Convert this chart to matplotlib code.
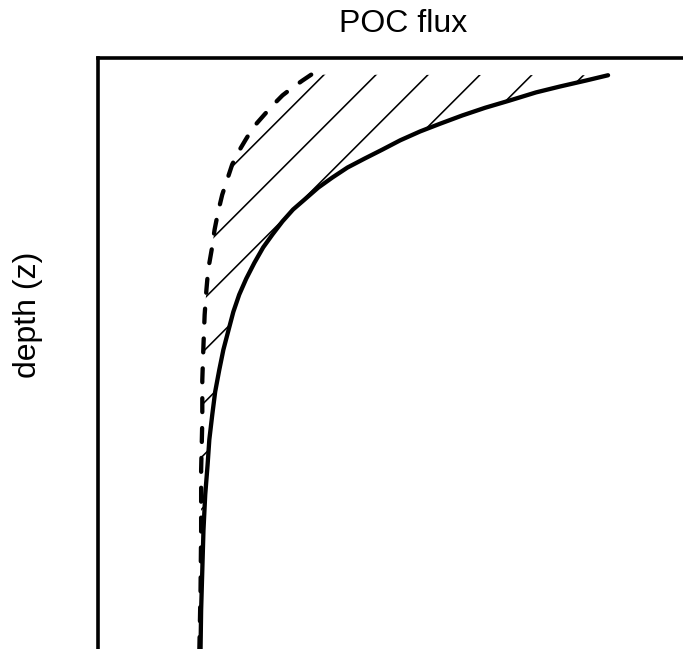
import numpy as np
import matplotlib
matplotlib.use("Agg")
import matplotlib.pyplot as plt
from matplotlib.patches import Polygon

plt.rcParams['font.family'] = ['Liberation Sans', 'DejaVu Sans']
plt.rcParams['lines.scale_dashes'] = False

# flux profiles with depth (arbitrary units, depth 0..100 top to bottom)
solidFlux = [87.2, 83.4, 79.0, 74.9, 70.3, 66.2, 62.3, 58.5, 55.1, 51.7, 48.6,
             45.6, 42.7, 40.1, 37.7, 35.5, 33.4, 31.6, 29.9, 28.3, 26.8, 25.4,
             24.2, 23.2, 22.4, 21.5, 20.8, 20.1, 19.6, 19.1, 18.8, 18.4, 18.1,
             17.9, 17.7, 17.6]
solidDepth = [3.0, 3.9, 4.9, 5.9, 7.3, 8.5, 9.8, 11.2, 12.5, 14.0, 15.6,
              17.1, 18.6, 20.3, 22.0, 23.9, 25.7, 27.7, 29.9, 32.1, 34.7, 37.4,
              40.1, 43.0, 46.0, 49.4, 52.8, 56.5, 60.4, 64.6, 68.9, 73.9, 79.9,
              86.6, 93.4, 100.0]

dashFlux = [36.5, 35.0, 33.3, 31.6, 29.9, 28.2, 26.6, 25.3, 24.1, 23.0, 22.2,
            21.3, 20.6, 20.0, 19.5, 18.9, 18.6, 18.3, 18.1, 17.9, 17.9, 17.7,
            17.7, 17.6, 17.4]
dashDepth = [2.9, 3.9, 5.1, 6.4, 8.1, 10.0, 11.8, 13.9, 15.9, 18.1, 20.5,
             23.2, 26.1, 29.1, 32.5, 35.9, 39.3, 43.5, 48.6, 54.5, 61.3, 69.7,
             79.9, 90.0, 100.0]

W, H, DPI = 683, 649, 100
fig = plt.figure(figsize=(W / DPI, H / DPI), dpi=DPI)
ax = fig.add_axes([97.5 / W, 0, 1 - 97.5 / W, 1 - 57.5 / H])
ax.set_xlim(0, 100)
ax.set_ylim(100, 0)
ax.set_xticks([])
ax.set_yticks([])
for side in ['right', 'bottom']:
    ax.spines[side].set_visible(False)
for side in ['top', 'left']:
    ax.spines[side].set_linewidth(2.6)

# region between the two profiles, used to clip the hatching
region = Polygon(np.column_stack([np.r_[dashFlux, solidFlux[::-1]],
                                  np.r_[dashDepth, solidDepth[::-1]]]),
                 closed=True, facecolor='none', edgecolor='none',
                 transform=ax.transData)
ax.add_patch(region)

# 45 degree hatch lines, spaced in pixels
step = 52.0
x0, y0 = ax.transData.transform((38.6, 3.0))
inv = ax.transData.inverted()
for k in range(-12, 14):
    p = np.array([[x0 + k * step - 800, y0 - 800],
                  [x0 + k * step + 800, y0 + 800]])
    d = inv.transform(p)
    ln, = ax.plot(d[:, 0], d[:, 1], color='black', lw=1.15)
    ln.set_clip_path(region)

ax.plot(solidFlux, solidDepth, color='black', lw=3.1, solid_capstyle='round',
        solid_joinstyle='round', clip_on=False)
ax.plot(dashFlux, dashDepth, color='black', lw=3.1,
        linestyle=(0, (10, 11.5)), dash_capstyle='round', clip_on=False)

fig.text(403 / W, 1 - 32 / H, 'POC flux', ha='center', va='baseline',
         fontsize=23)
fig.text(28 / W, 1 - 315 / H, 'depth (z)', rotation=90, ha='center',
         va='center', fontsize=23)

fig.savefig('out.png', dpi=DPI)
